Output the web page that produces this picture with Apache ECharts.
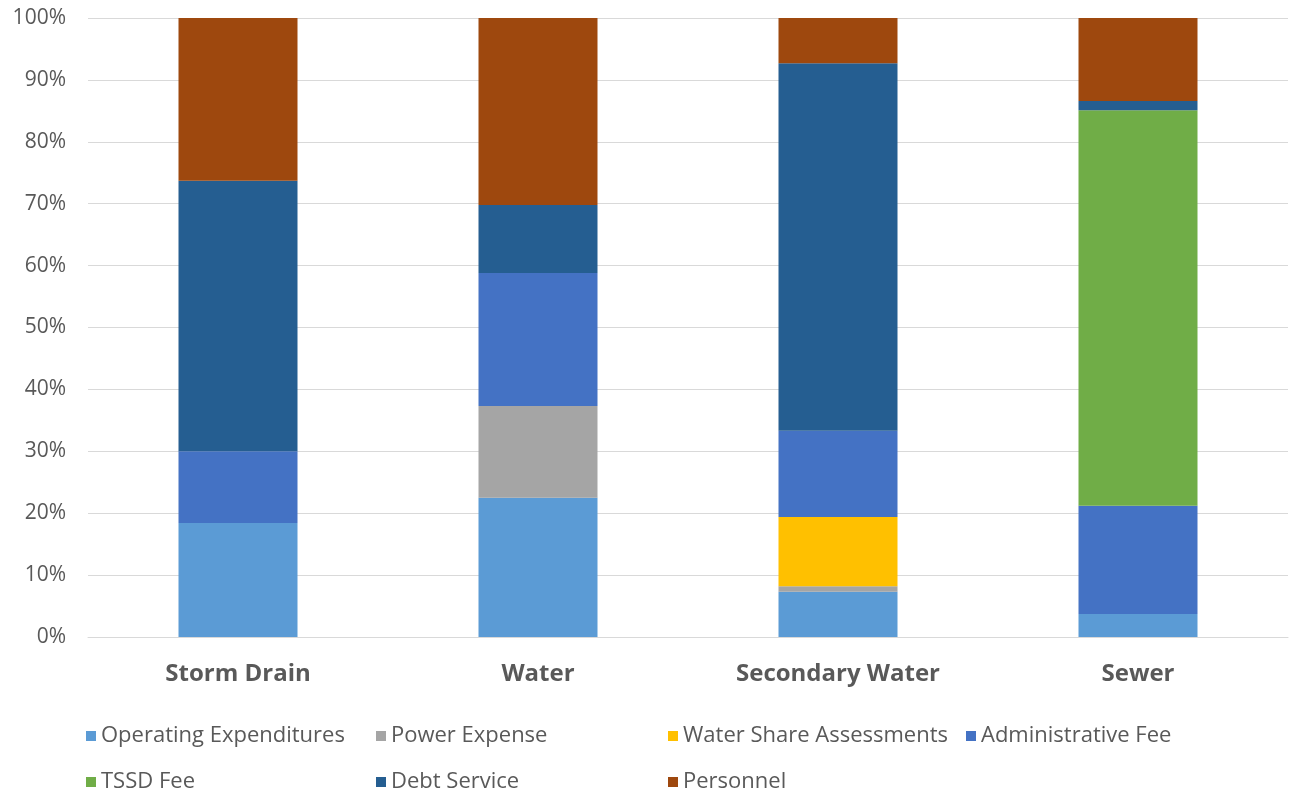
<!DOCTYPE html>
<html>
<head>
<meta charset="utf-8">
<script src="https://cdn.jsdelivr.net/npm/echarts@6/dist/echarts.min.js"></script>
<style>
  html, body { margin: 0; padding: 0; background: #fff; }
  #chart { width: 1292px; height: 798px; }
</style>
</head>
<body>
<div id="chart"></div>
<script>
const categories = ['Storm Drain', 'Water', 'Secondary Water', 'Sewer']

const operating = [18.4, 22.5, 7.3, 3.7]
const power = [0, 14.8, 0.9, 0]
const waterShare = [0, 0, 11.2, 0]
const adminFee = [11.6, 21.5, 13.9, 17.5]
const tssdFee = [0, 0, 0, 63.9]
const debtService = [43.7, 11.0, 59.4, 1.5]
const personnel = [26.3, 30.2, 7.3, 13.4]

const seriesList = [
  { name: 'Operating Expenditures', data: operating, color: '#5B9BD5' },
  { name: 'Power Expense', data: power, color: '#A5A5A5' },
  { name: 'Water Share Assessments', data: waterShare, color: '#FFC000' },
  { name: 'Administrative Fee', data: adminFee, color: '#4472C4' },
  { name: 'TSSD Fee', data: tssdFee, color: '#70AD47' },
  { name: 'Debt Service', data: debtService, color: '#255E91' },
  { name: 'Personnel', data: personnel, color: '#9E480E' }
]

// legend slots, laid out like the office grid legend
const legendPos = [
  [81, 720], [371, 720], [663, 720], [961, 720],
  [81, 766], [371, 766], [663, 766]
]

const chart = echarts.init(document.getElementById('chart'))

const option = {
  animation: false,
  textStyle: { fontFamily: 'Open Sans' },
  grid: { left: 88, right: 4, top: 18, bottom: 161 },
  legend: seriesList.map((s, i) => ({
    data: [s.name],
    left: legendPos[i][0],
    top: legendPos[i][1],
    icon: 'rect',
    itemWidth: 10,
    itemHeight: 10,
    itemGap: 0,
    selectedMode: false,
    textStyle: { color: '#595959', fontSize: 22, fontFamily: 'Open Sans', padding: [0, 0, 0, 0] }
  })),
  xAxis: {
    type: 'category',
    data: categories,
    axisTick: { show: false },
    axisLine: { lineStyle: { color: '#D9D9D9' } },
    axisLabel: {
      color: '#595959',
      fontSize: 24,
      fontWeight: 'bold',
      margin: 25
    }
  },
  yAxis: {
    type: 'value',
    min: 0,
    max: 100,
    interval: 10,
    axisLine: { show: false },
    axisTick: { show: false },
    splitLine: { lineStyle: { color: '#D9D9D9', width: 1 } },
    axisLabel: {
      color: '#595959',
      fontSize: 21,
      margin: 22,
      formatter: '{value}%'
    }
  },
  series: seriesList.map((s) => ({
    name: s.name,
    type: 'bar',
    stack: 'total',
    barWidth: 119,
    data: s.data,
    itemStyle: { color: s.color }
  }))
}

chart.setOption(option)
</script>
</body>
</html>
